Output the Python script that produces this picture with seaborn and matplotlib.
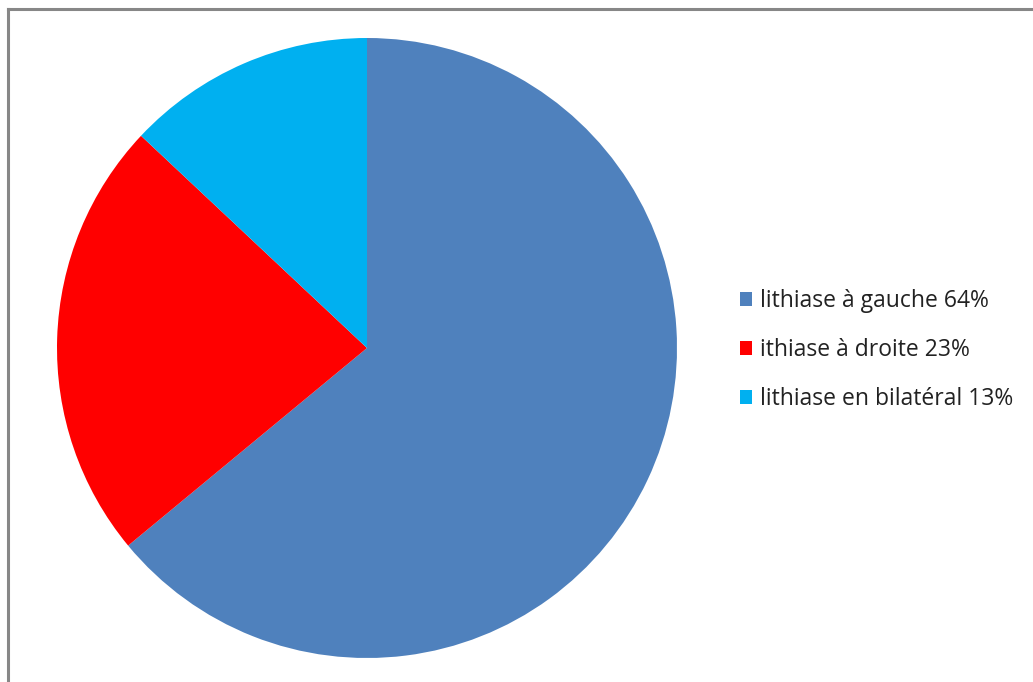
import matplotlib
matplotlib.use("Agg")
import matplotlib.pyplot as plt
import seaborn as sns
from matplotlib.lines import Line2D
from matplotlib.patches import Patch

sns.set_theme(style="white")
plt.rcParams['font.family'] = ['Open Sans', 'DejaVu Sans']

labels = ["lithiase à gauche 64%", "ithiase à droite 23%", "lithiase en bilatéral 13%"]
values = [64, 23, 13]
colors = ["#4F81BD", "#FF0000", "#00B0F0"]

fig = plt.figure(figsize=(10.33, 6.82), dpi=100)
fig.patch.set_facecolor("white")

ax = fig.add_axes([57 / 1033, 24 / 682, 620 / 1033, 620 / 682])
ax.pie(values, colors=colors, startangle=90, counterclock=False,
       wedgeprops=dict(linewidth=0))
ax.set_aspect("equal")
ax.set_xlim(-1, 1)
ax.set_ylim(-1, 1)

handles = [Patch(facecolor=c, edgecolor="none") for c in colors]
fig.legend(handles, labels, loc="center left", bbox_to_anchor=(719 / 1033, (682 - 350) / 682),
           frameon=False, fontsize=16.5, handlelength=0.55, handleheight=0.55,
           handletextpad=0.35, labelspacing=1.1, labelcolor="#222222")

# chart frame (left and top edges)
fig.add_artist(Line2D([8 / 1033, 8 / 1033], [0, 1 - 8.5 / 682], color="#878787", lw=2.2,
                      transform=fig.transFigure, solid_capstyle="projecting"))
fig.add_artist(Line2D([8 / 1033, 1], [1 - 8.5 / 682, 1 - 8.5 / 682], color="#878787", lw=2.2,
                      transform=fig.transFigure, solid_capstyle="projecting"))

fig.savefig("out.png", dpi=100, facecolor="white")
